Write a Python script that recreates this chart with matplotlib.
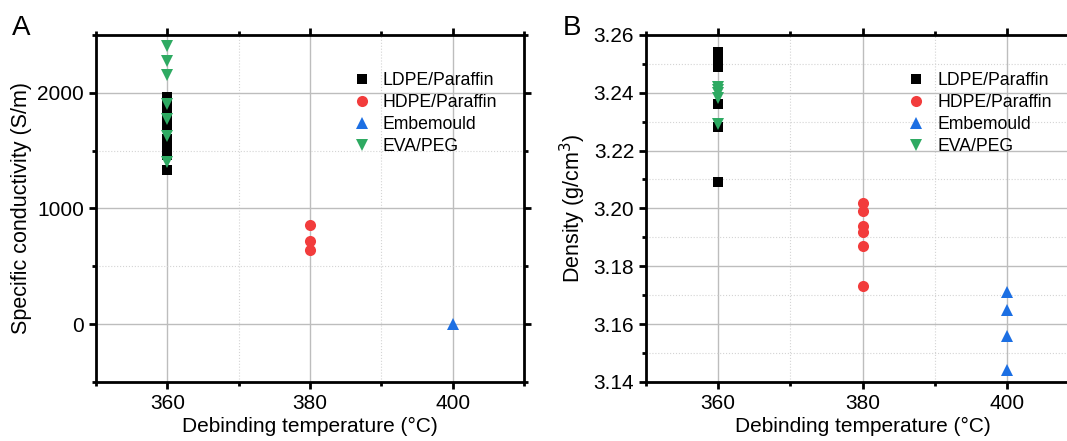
import numpy as np
import matplotlib
matplotlib.use("Agg")
import matplotlib.pyplot as plt
from matplotlib.ticker import MultipleLocator, FormatStrFormatter

plt.rcParams['font.family'] = ['Liberation Sans', 'DejaVu Sans']

# Panel A: specific conductivity (S/m)
ldpe_cond = [1960, 1900, 1840, 1780, 1700, 1600, 1530, 1460, 1330]
hdpe_cond = [860, 715, 640]
emb_cond = [0]
eva_cond = [2400, 2270, 2150, 1900, 1770, 1625, 1405]

# Panel B: density (g/cm3)
ldpe_dens = [3.254, 3.252, 3.249, 3.236, 3.228, 3.209]
hdpe_dens = [3.202, 3.199, 3.194, 3.192, 3.187, 3.173]
emb_dens = [3.171, 3.165, 3.156, 3.144]
eva_dens = [3.242, 3.241, 3.240, 3.238, 3.229]

t_ldpe = 360
t_hdpe = 380
t_emb = 400
t_eva = 360

labels = ["LDPE/Paraffin", "HDPE/Paraffin", "Embemould", "EVA/PEG"]
colors = ["black", "#f23c3c", "#1c6fe3", "#2eaa62"]
markers = ["s", "o", "^", "v"]
msizes = [7, 8, 9, 9]


def style_axes(ax):
    for sp in ax.spines.values():
        sp.set_linewidth(2.0)
    ax.tick_params(which="both", direction="out", top=True, right=True,
                   labeltop=False, labelright=False, labelsize=15, width=2.0)
    ax.tick_params(which="major", length=5)
    ax.tick_params(which="minor", length=3)
    ax.grid(which="major", color="#bdbdbd", linewidth=1.0)
    ax.grid(which="minor", color="#d4d4d4", linewidth=0.8, linestyle=":")
    ax.set_axisbelow(True)
    ax.set_xlim(350, 410)
    ax.xaxis.set_major_locator(MultipleLocator(20))
    ax.xaxis.set_minor_locator(MultipleLocator(10))
    ax.set_xlabel("Debinding temperature (°C)", fontsize=15, labelpad=3)


def plot_series(ax, data, anchor):
    temps = [t_ldpe, t_hdpe, t_emb, t_eva]
    for ys, t, lab, c, m, ms in zip(data, temps, labels, colors, markers, msizes):
        ax.plot([t] * len(ys), ys, linestyle="none", marker=m, color=c,
                markersize=ms, markeredgewidth=0, label=lab, zorder=3)
    ax.legend(frameon=False, fontsize=12.7, handletextpad=0.6, labelspacing=0.28,
              handlelength=1.2, borderaxespad=0, loc="upper left",
              bbox_to_anchor=anchor)


fig = plt.figure(figsize=(10.67, 4.41), dpi=100)

axA = fig.add_axes([0.090, 0.134, 0.401, 0.787])
plot_series(axA, [ldpe_cond, hdpe_cond, emb_cond, eva_cond], (0.58, 0.913))
style_axes(axA)
axA.set_ylim(-500, 2500)
axA.yaxis.set_major_locator(MultipleLocator(1000))
axA.yaxis.set_minor_locator(MultipleLocator(500))
axA.set_ylabel("Specific conductivity (S/m)", fontsize=15.5, labelpad=4)

axB = fig.add_axes([0.6054, 0.134, 0.406, 0.787])
plot_series(axB, [ldpe_dens, hdpe_dens, emb_dens, eva_dens], (0.583, 0.912))
style_axes(axB)
axB.set_ylim(3.14, 3.26)
axB.yaxis.set_major_locator(MultipleLocator(0.02))
axB.yaxis.set_minor_locator(MultipleLocator(0.01))
axB.yaxis.set_major_formatter(FormatStrFormatter("%.2f"))
axB.set_ylabel("Density (g/cm$^3$)", fontsize=15.5, labelpad=4)

fig.text(0.011, 0.92, "A", fontsize=20)
fig.text(0.527, 0.92, "B", fontsize=20)

fig.savefig("out.png", dpi=100)
